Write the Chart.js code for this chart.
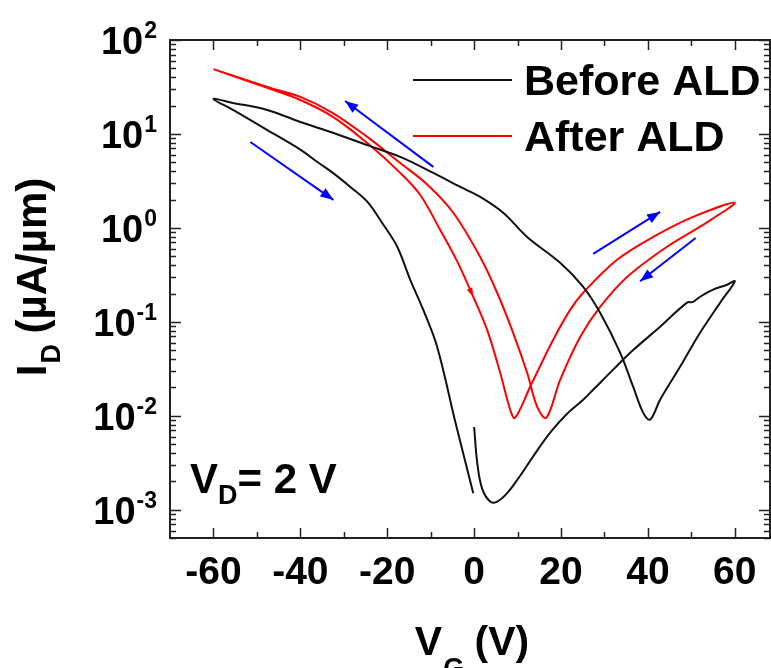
<!DOCTYPE html>
<html>
<head>
<meta charset="utf-8">
<script src="https://cdn.jsdelivr.net/npm/chart.js@4.4.1/dist/chart.umd.min.js"></script>
<style>
  html, body { margin: 0; padding: 0; background: #fff; }
</style>
</head>
<body>
<canvas id="chart" width="771" height="668"></canvas>
<script>
// tick values
const xTicks = [-60, -40, -20, 0, 20, 40, 60];
const yDecades = [-3, -2, -1, 0, 1, 2];

// Before ALD sweep (V_G in V, I_D in uA/um), in measurement order
const beforeV = [0, 0.7, 1.8, 3.7, 5.3, 7.6, 10.6, 13.6, 17.5, 21.4, 25.1, 27.4, 32.0, 36.6, 42.8, 49.0, 50.4, 52.0, 55.0, 58.2, 60.0,
  56.6, 52.0, 47.4, 42.8, 40.5, 38.9, 36.6, 33.6, 29.0, 25.1, 19.8, 12.2, 6.7, 1.4, -3.2, -9.4, -17.0, -24.6, -32.5, -40.0, -47.6, -55.5, -60.0,
  -55.5, -47.6, -40.0, -36.0, -32.5, -28.5, -24.6, -21.0, -17.7, -14.7, -11.7, -8.5, -4.3, -0.2];
const beforeI = [0.0076, 0.0032, 0.0017, 0.00122, 0.00122, 0.0015, 0.0023, 0.0037, 0.0066, 0.0105, 0.0148, 0.0189, 0.031, 0.050, 0.0885, 0.16, 0.163, 0.185, 0.22, 0.248, 0.27,
  0.159, 0.0764, 0.0332, 0.0148, 0.0091, 0.0108, 0.0204, 0.047, 0.125, 0.236, 0.425, 0.80, 1.45, 2.14, 2.73, 3.85, 5.7, 7.6, 10.3, 13.4, 18.0, 21.4, 23.6,
  18.0, 11.0, 6.8, 5.0, 3.85, 2.73, 1.9, 1.1, 0.63, 0.28, 0.134, 0.054, 0.0085, 0.0015];

// After ALD sweep
const afterV = [-60, -47.6, -40, -32.5, -24.6, -17, -12.4, -7.8, -3.9, -0.2, 3.0, 6.0, 8.3, 9.4, 12.9, 18.2, 22.1, 25.1, 32.9, 41.2, 50.4, 60,
  52, 44.4, 35.2, 29.0, 24.4, 19.8, 16.6, 14.5, 12.2, 9.0, 5.3, 1.4, -4.8, -10.8, -17, -24.6, -32.5, -40, -47.6, -60];
const afterI = [49, 30.9, 23, 15.2, 8.0, 3.85, 2.24, 0.95, 0.44, 0.185, 0.082, 0.0287, 0.0116, 0.0095, 0.0204, 0.0644, 0.134, 0.204, 0.457, 0.80, 1.31, 1.85,
  1.03, 0.63, 0.30, 0.144, 0.069, 0.0241, 0.0095, 0.0125, 0.0287, 0.076, 0.204, 0.49, 1.45, 2.9, 4.9, 9.3, 16.7, 24.8, 31.6, 49];
// index in the After ALD sweep where the small red direction mark sits
const afterMarkIndex = 9;

// sweep direction arrows: tail -> head
const arrowV = [[-51.5, -32.4], [-9.4, -29.7], [27.4, 42.8], [51.0, 38.2]];
const arrowI = [[8.2, 1.99], [4.46, 22.4], [0.53, 1.48], [0.78, 0.27]];

const FONT = '"Liberation Sans", Arial, Helvetica, sans-serif';
const AXIS_COLOR = '#222';

const toPoints = (xs, ys) => xs.map((v, i) => ({ x: v, y: ys[i] }));

const datasets = [
  { label: 'Before ALD', data: toPoints(beforeV, beforeI), borderColor: '#111', borderWidth: 2, showLine: true, pointRadius: 0, tension: 0.35 },
  { label: 'After ALD', data: toPoints(afterV, afterI), borderColor: '#ff0000', borderWidth: 2, showLine: true, pointRadius: 0, tension: 0.35 }
];
arrowV.forEach((xs, i) => {
  datasets.push({ label: '', arrow: true, data: toPoints(xs, arrowI[i]), borderColor: '#0000ff', borderWidth: 2, showLine: true, pointRadius: 0 });
});

function arrowHead(ctx, p0, p1, len, half) {
  const a = Math.atan2(p1.y - p0.y, p1.x - p0.x);
  ctx.beginPath();
  ctx.moveTo(p1.x, p1.y);
  ctx.lineTo(p1.x - len * Math.cos(a) + half * Math.sin(a), p1.y - len * Math.sin(a) - half * Math.cos(a));
  ctx.lineTo(p1.x - len * Math.cos(a) - half * Math.sin(a), p1.y - len * Math.sin(a) + half * Math.cos(a));
  ctx.closePath();
  ctx.fill();
}

const decorPlugin = {
  id: 'decor',
  afterDatasetsDraw(chart) {
    const ctx = chart.ctx;
    const ca = chart.chartArea;
    const xs = chart.scales.x;
    const ys = chart.scales.y;
    ctx.save();

    // arrow heads
    chart.data.datasets.forEach((ds, i) => {
      if (!ds.arrow) return;
      const pts = chart.getDatasetMeta(i).data;
      ctx.fillStyle = ds.borderColor;
      arrowHead(ctx, pts[0], pts[1], 13, 5);
    });
    // little red mark on the After ALD sweep
    const red = chart.getDatasetMeta(1).data;
    ctx.fillStyle = chart.data.datasets[1].borderColor;
    arrowHead(ctx, red[afterMarkIndex - 1], red[afterMarkIndex], 9, 3);

    // frame
    ctx.strokeStyle = AXIS_COLOR;
    ctx.lineWidth = 2;
    ctx.strokeRect(ca.left, ca.top, ca.right - ca.left, ca.bottom - ca.top);

    // inward ticks
    ctx.lineWidth = 1.5;
    ctx.beginPath();
    for (let v = -60; v <= 60; v += 10) {
      const px = Math.round(xs.getPixelForValue(v)) + 0.5;
      const len = v % 20 === 0 ? 10 : 6;
      ctx.moveTo(px, ca.bottom); ctx.lineTo(px, ca.bottom - len);
      ctx.moveTo(px, ca.top); ctx.lineTo(px, ca.top + len);
    }
    for (let e = -4; e <= 2; e++) {
      for (let m = 1; m <= 9; m++) {
        const val = m * Math.pow(10, e);
        if (val < ys.min || val > ys.max) continue;
        const py = Math.round(ys.getPixelForValue(val)) + 0.5;
        const len = m === 1 ? 11 : 6;
        ctx.moveTo(ca.left, py); ctx.lineTo(ca.left + len, py);
        ctx.moveTo(ca.right, py); ctx.lineTo(ca.right - len, py);
      }
    }
    ctx.stroke();

    ctx.fillStyle = '#000';
    ctx.textBaseline = 'alphabetic';

    // x tick labels
    ctx.font = 'bold 39px ' + FONT;
    ctx.textAlign = 'center';
    xTicks.forEach(v => {
      ctx.fillText(String(v), xs.getPixelForValue(v), 584);
    });

    // y tick labels 10^n
    ctx.textAlign = 'right';
    yDecades.forEach(e => {
      const py = ys.getPixelForValue(Math.pow(10, e));
      ctx.font = 'bold 23px ' + FONT;
      const sup = String(e);
      const sw = ctx.measureText(sup).width;
      const right = ca.left - 13;
      ctx.fillText(sup, right, py - 2);
      ctx.font = 'bold 38px ' + FONT;
      ctx.fillText('10', right - sw - 1, py + 14);
    });

    // x axis title: V_G (V)
    ctx.textAlign = 'left';
    const cx = (ca.left + ca.right) / 2 + 2;
    ctx.font = 'bold 41px ' + FONT;
    const wV = ctx.measureText('V').width;
    const wRest = ctx.measureText(' (V)').width;
    ctx.font = 'bold 27px ' + FONT;
    const wG = ctx.measureText('G').width;
    let x0 = cx - (wV + wG + wRest) / 2;
    ctx.font = 'bold 41px ' + FONT;
    ctx.fillText('V', x0, 655);
    ctx.font = 'bold 27px ' + FONT;
    ctx.fillText('G', x0 + wV + 1, 677);
    ctx.font = 'bold 41px ' + FONT;
    ctx.fillText(' (V)', x0 + wV + wG, 655);

    // y axis title: I_D (uA/um)
    ctx.save();
    ctx.translate(46, (ca.top + ca.bottom) / 2 - 12);
    ctx.rotate(-Math.PI / 2);
    ctx.font = 'bold 42px ' + FONT;
    const wI = ctx.measureText('I').width;
    const wUnit = ctx.measureText(' (\u00b5A/\u00b5m)').width;
    ctx.font = 'bold 27px ' + FONT;
    const wD = ctx.measureText('D').width;
    x0 = -(wI + wD + wUnit) / 2;
    ctx.font = 'bold 42px ' + FONT;
    ctx.fillText('I', x0, 0);
    ctx.font = 'bold 27px ' + FONT;
    ctx.fillText('D', x0 + wI + 1, 14);
    ctx.font = 'bold 42px ' + FONT;
    ctx.fillText(' (\u00b5A/\u00b5m)', x0 + wI + wD, 0);
    ctx.restore();

    // V_D = 2 V note
    ctx.font = 'bold 42px ' + FONT;
    ctx.fillText('V', 190, 493);
    const vw = ctx.measureText('V').width;
    ctx.font = 'bold 27px ' + FONT;
    ctx.fillText('D', 190 + vw, 504);
    const dw = ctx.measureText('D').width;
    ctx.font = 'bold 42px ' + FONT;
    ctx.fillText('= 2 V', 190 + vw + dw, 493);

    // legend
    ctx.lineWidth = 2;
    chart.data.datasets.slice(0, 2).forEach((ds, i) => {
      const ly = 80 + i * 56;
      ctx.strokeStyle = ds.borderColor;
      ctx.beginPath();
      ctx.moveTo(413, ly); ctx.lineTo(512, ly);
      ctx.stroke();
      ctx.font = 'bold 43px ' + FONT;
      ctx.fillText(ds.label, 524, ly + 15);
    });

    ctx.restore();
  }
};

new Chart(document.getElementById('chart'), {
  type: 'scatter',
  data: { datasets },
  options: {
    responsive: false,
    animation: false,
    devicePixelRatio: 1,
    layout: { padding: { top: 40, right: 1, left: 0, bottom: 0 } },
    plugins: { legend: { display: false }, tooltip: { enabled: false } },
    scales: {
      x: {
        type: 'linear',
        min: -70,
        max: 68.1,
        grid: { display: false, drawTicks: false },
        border: { display: false },
        ticks: { display: false },
        afterFit: s => { s.height = 130; }
      },
      y: {
        type: 'logarithmic',
        min: 5.0e-4,
        max: 100,
        grid: { display: false, drawTicks: false },
        border: { display: false },
        ticks: { display: false },
        afterFit: s => { s.width = 170; }
      }
    }
  },
  plugins: [decorPlugin]
});
</script>
</body>
</html>
